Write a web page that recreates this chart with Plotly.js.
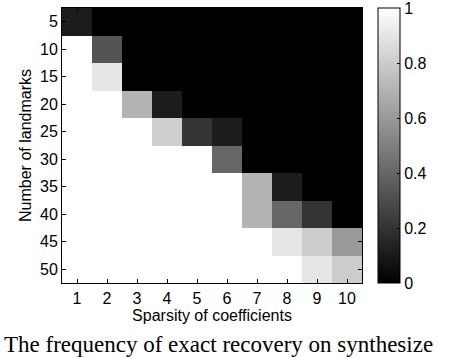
<!DOCTYPE html>
<html>
<head>
<meta charset="utf-8">
<script src="https://cdn.plot.ly/plotly-3.0.1.min.js"></script>
<style>html,body{margin:0;padding:0;background:#fff;}#chart{width:462px;height:358px;}</style>
</head>
<body>
<div id="chart"></div>
<script>
// Sparsity of coefficients (columns)
const sparsity = [1, 2, 3, 4, 5, 6, 7, 8, 9, 10];
// Number of landmarks (rows)
const landmarks = [5, 10, 15, 20, 25, 30, 35, 40, 45, 50];
// Frequency of exact recovery, one row per landmark count
const row5  = [0.11, 0, 0, 0, 0, 0, 0, 0, 0, 0];
const row10 = [1, 0.33, 0, 0, 0, 0, 0, 0, 0, 0];
const row15 = [1, 0.9, 0, 0, 0, 0, 0, 0, 0, 0];
const row20 = [1, 1, 0.7, 0.11, 0, 0, 0, 0, 0, 0];
const row25 = [1, 1, 1, 0.81, 0.2, 0.11, 0, 0, 0, 0];
const row30 = [1, 1, 1, 1, 1, 0.4, 0, 0, 0, 0];
const row35 = [1, 1, 1, 1, 1, 1, 0.7, 0.11, 0, 0];
const row40 = [1, 1, 1, 1, 1, 1, 0.7, 0.4, 0.2, 0];
const row45 = [1, 1, 1, 1, 1, 1, 1, 0.9, 0.8, 0.6];
const row50 = [1, 1, 1, 1, 1, 1, 1, 1, 0.9, 0.8];
const freq = [row5, row10, row15, row20, row25, row30, row35, row40, row45, row50];
const cbTicks = [0, 0.2, 0.4, 0.6, 0.8, 1];
const cbTickText = ['0', '0.2', '0.4', '0.6', '0.8', '1'];
const caption = 'The frequency of exact recovery on synthesize';

const fam = 'Liberation Sans, Arial, sans-serif';
const font = {family: fam, size: 16, color: '#000'};

const trace = {
  type: 'heatmap',
  x: sparsity,
  y: landmarks,
  z: freq,
  zmin: 0,
  zmax: 1,
  colorscale: [[0, '#000000'], [1, '#ffffff']],
  xgap: 0, ygap: 0,
  hoverinfo: 'none',
  colorbar: {
    x: 1.0533, xanchor: 'left', xpad: 0,
    y: 0.5, yanchor: 'middle', ypad: 0,
    len: 1, lenmode: 'fraction',
    thickness: 22, thicknessmode: 'pixels',
    outlinewidth: 1, outlinecolor: '#000',
    tickmode: 'array',
    tickvals: cbTicks.map(v => Math.min(v, 0.9995)),
    ticktext: cbTickText,
    ticklabeloverflow: 'allow',
    ticks: 'inside', ticklen: 3, tickcolor: '#000', tickwidth: 1,
    tickfont: {family: fam, size: 16, color: '#000'}
  }
};

const layout = {
  width: 462, height: 358,
  margin: {l: 62, r: 100, t: 8, b: 75},
  paper_bgcolor: '#fff', plot_bgcolor: '#fff',
  font: font,
  xaxis: {
    range: [0.5, 10.5],
    tickmode: 'array', tickvals: sparsity,
    ticks: 'inside', ticklen: 4, tickcolor: '#000', tickwidth: 1,
    showline: true, linecolor: '#000', linewidth: 1, mirror: 'ticks',
    showgrid: false, zeroline: false,
    ticklabelstandoff: 1,
    tickfont: font,
    title: {text: 'Sparsity of coefficients', font: font, standoff: 0}
  },
  yaxis: {
    range: [52.5, 2.5],
    tickmode: 'array', tickvals: landmarks,
    ticks: 'inside', ticklen: 4, tickcolor: '#000', tickwidth: 1,
    showline: true, linecolor: '#000', linewidth: 1, mirror: 'ticks',
    showgrid: false, zeroline: false,
    tickfont: font,
    title: {text: 'Number of landmarks', font: font, standoff: 4}
  },
  annotations: [{
    text: caption,
    xref: 'paper', yref: 'paper',
    x: -0.2, y: -0.225, xanchor: 'left', yanchor: 'middle',
    showarrow: false,
    font: {family: 'Liberation Serif, Times New Roman, serif', size: 23, color: '#000'}
  }]
};

Plotly.newPlot('chart', [trace], layout, {displayModeBar: false, staticPlot: true});
</script>
</body>
</html>
